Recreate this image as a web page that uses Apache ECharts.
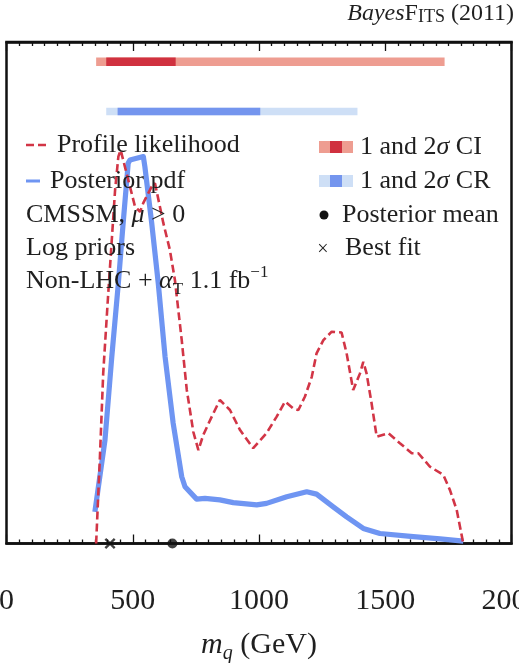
<!DOCTYPE html>
<html>
<head>
<meta charset="utf-8">
<script src="https://cdn.jsdelivr.net/npm/echarts@6/dist/echarts.min.js"></script>
<style>
  html, body { margin: 0; padding: 0; background: #fff; }
  #chart { width: 519px; height: 663px; }
</style>
</head>
<body>
<div id="chart"></div>
<script>
// Squark mass: profile likelihood (dashed) and posterior pdf (solid), CMSSM with log priors.

const xTicks = [0, 500, 1000, 1500, 2000];

// Posterior pdf (normalised to peak ~1)
const posteriorMass = [350, 390, 417, 443, 462, 482, 489, 542, 548, 575, 601, 628, 660, 694, 707,
  753, 786, 845, 898, 991, 1030, 1110, 1189, 1228, 1294, 1347, 1413, 1479, 1611, 1717, 1809];
const posteriorPdf = [0.082, 0.268, 0.484, 0.675, 0.831, 0.986, 0.994, 1.003, 0.977, 0.831, 0.675, 0.484, 0.312, 0.173, 0.147,
  0.115, 0.117, 0.113, 0.106, 0.100, 0.104, 0.121, 0.134, 0.128, 0.095, 0.069, 0.039, 0.026, 0.018, 0.012, 0.006];

// Profile likelihood (normalised to peak ~1)
const profileMass = [355, 370, 383, 403, 417, 430, 443, 452, 489, 509, 529, 542, 575, 588, 621, 647, 667,
  694, 714, 740, 760, 779, 813, 845, 885, 925, 977, 1030, 1070, 1103, 1136, 1156, 1182, 1209, 1228, 1255,
  1288, 1327, 1347, 1373, 1400, 1413, 1426, 1446, 1466, 1512, 1558, 1605, 1631, 1677, 1730, 1756, 1783, 1809];
const profileLike = [0.0, 0.225, 0.441, 0.649, 0.787, 0.916, 1.003, 1.020, 0.925, 0.873, 0.860, 0.883, 0.925, 0.934, 0.831, 0.761, 0.683,
  0.527, 0.398, 0.289, 0.242, 0.281, 0.329, 0.372, 0.346, 0.294, 0.247, 0.286, 0.329, 0.368, 0.350, 0.346, 0.381, 0.432, 0.493, 0.527,
  0.549, 0.547, 0.493, 0.398, 0.441, 0.471, 0.441, 0.363, 0.277, 0.286, 0.260, 0.234, 0.234, 0.199, 0.178, 0.139, 0.087, 0.0];

// Confidence intervals (profile likelihood) and credible regions (posterior), GeV
const ci2sigma = [355, 1735];
const ci1sigma = [395, 670];
const cr2sigma = [395, 1390];
const cr1sigma = [440, 1005];

const posteriorMean = [657];
const bestFit = [410];

const FONT = 'Liberation Serif';
const INK = '#1f1f1f';
const RED = '#d23546';
const RED_LIGHT = '#ee9d91';
const RED_DARK = '#d0313f';
const BLUE = '#6f95f2';
const BLUE_LIGHT = '#cedff6';
const BLUE_DARK = '#7495ee';

const CI_LEVEL = 1.249;
const CR_LEVEL = 1.12;

function band(range, level, color, width) {
  return {
    type: 'line', silent: true, symbol: 'none', animation: false,
    data: [[range[0], level], [range[1], level]],
    lineStyle: { color: color, width: width, cap: 'butt' }
  };
}

function xAxisCfg(position, showLabels) {
  return {
    type: 'value', position: position,
    min: xTicks[0], max: xTicks[xTicks.length - 1], interval: xTicks[1] - xTicks[0],
    axisLine: { show: true, lineStyle: { color: '#111', width: 2.5 } },
    axisTick: { show: true, inside: true, length: 9, lineStyle: { color: '#111', width: 1.3 } },
    minorTick: { show: true, splitNumber: 10, length: 4, lineStyle: { color: '#111', width: 1.3 } },
    splitLine: { show: false }, minorSplitLine: { show: false },
    axisLabel: {
      show: showLabels, margin: 43, fontFamily: FONT, fontSize: 30, color: INK,
      showMinLabel: true, showMaxLabel: true,
      formatter: v => String(v)
    }
  };
}

const bottomAxis = xAxisCfg('bottom', true);
bottomAxis.name = '{m|m}{q|q}{n| (GeV)}';
bottomAxis.nameLocation = 'middle';
bottomAxis.nameGap = 84;
bottomAxis.nameTextStyle = {
  rich: {
    m: { fontFamily: FONT, fontStyle: 'italic', fontSize: 30, color: INK, lineHeight: 36, verticalAlign: 'middle' },
    q: { fontFamily: FONT, fontStyle: 'italic', fontSize: 20, color: INK, lineHeight: 20, verticalAlign: 'bottom' },
    n: { fontFamily: FONT, fontSize: 30, color: INK, lineHeight: 36, verticalAlign: 'middle' }
  }
};

const baseTxt = { fontFamily: FONT, fontSize: 26, fill: INK };
const richLegend = {
  n: { fontFamily: FONT, fontSize: 26, fill: INK, lineHeight: 34, verticalAlign: 'middle' },
  it: { fontFamily: FONT, fontSize: 26, fontStyle: 'italic', fill: INK, lineHeight: 34, verticalAlign: 'middle' },
  sub: { fontFamily: FONT, fontSize: 17, fill: INK, lineHeight: 15, verticalAlign: 'bottom' },
  sup: { fontFamily: FONT, fontSize: 17, fill: INK, lineHeight: 22, verticalAlign: 'top' }
};

function label(x, y, text) {
  return {
    type: 'text', x: x, y: y, z: 100,
    style: Object.assign({ text: text, rich: richLegend, verticalAlign: 'middle', align: 'left' }, baseTxt)
  };
}

const option = {
  animation: false,
  backgroundColor: '#fff',
  grid: {
    left: 6.5, right: 7.5, top: 42, bottom: 119.5,
    containLabel: false, outerBoundsMode: 'none',
    show: true, borderColor: '#111', borderWidth: 2.5
  },
  xAxis: [bottomAxis, xAxisCfg('top', false)],
  yAxis: { type: 'value', min: 0, max: 1.3, show: false },
  series: [
    band(ci2sigma, CI_LEVEL, RED_LIGHT, 8.5),
    band(ci1sigma, CI_LEVEL, RED_DARK, 8.5),
    band(cr2sigma, CR_LEVEL, BLUE_LIGHT, 7.5),
    band(cr1sigma, CR_LEVEL, BLUE_DARK, 7.5),
    {
      name: 'Posterior pdf', type: 'line', symbol: 'none', silent: true,
      data: posteriorMass.map((m, i) => [m, posteriorPdf[i]]),
      lineStyle: { color: BLUE, width: 5.2, join: 'round' }, z: 3
    },
    {
      name: 'Profile likelihood', type: 'line', symbol: 'none', silent: true,
      data: profileMass.map((m, i) => [m, profileLike[i]]),
      lineStyle: { color: RED, width: 2.6, type: [8, 4] }, z: 4
    },
    {
      name: 'Posterior mean', type: 'scatter', clip: false, silent: true,
      data: posteriorMean.map(m => [m, 0]),
      symbol: 'circle', symbolSize: 10, itemStyle: { color: '#111' }, z: 10
    },
    {
      name: 'Best fit', type: 'scatter', clip: false, silent: true,
      data: bestFit.map(m => [m, 0]),
      symbol: 'path://M0,1.5L1.5,0L5,3.5L8.5,0L10,1.5L6.5,5L10,8.5L8.5,10L5,6.5L1.5,10L0,8.5L3.5,5Z',
      symbolSize: 11, itemStyle: { color: '#111' }, z: 10
    }
  ],
  graphic: [
    {
      type: 'text', x: 514, y: 14, z: 100,
      style: {
        text: '{it|Bayes}{sc|F}{scs|ITS}{n| (2011)}', align: 'right', verticalAlign: 'middle',
        rich: {
          it: { fontFamily: FONT, fontStyle: 'italic', fontSize: 24, fill: INK, lineHeight: 24, verticalAlign: 'bottom' },
          sc: { fontFamily: FONT, fontSize: 24, fill: INK, lineHeight: 24, verticalAlign: 'bottom' },
          scs: { fontFamily: FONT, fontSize: 18, fill: INK, lineHeight: 19, verticalAlign: 'bottom' },
          n: { fontFamily: FONT, fontSize: 24, fill: INK, lineHeight: 24, verticalAlign: 'bottom' }
        }
      }
    },
    // left legend block
    { type: 'line', z: 100, shape: { x1: 26, y1: 145, x2: 48, y2: 145 },
      style: { stroke: RED, lineWidth: 2.6, lineDash: [8, 4] } },
    label(57, 145, '{n|Profile likelihood}'),
    { type: 'line', z: 100, shape: { x1: 26, y1: 181, x2: 40, y2: 181 },
      style: { stroke: BLUE, lineWidth: 3 } },
    label(50, 181, '{n|Posterior pdf}'),
    label(26, 215, '{n|CMSSM, }{it|μ}{n| > 0}'),
    label(26, 248, '{n|Log priors}'),
    label(26, 281, '{n|Non-LHC + }{it|α}{sub|T}{n| 1.1 fb}{sup|−1}'),
    // right legend block
    { type: 'rect', z: 100, shape: { x: 319, y: 141, width: 34, height: 12 }, style: { fill: RED_LIGHT } },
    { type: 'rect', z: 100, shape: { x: 330, y: 141, width: 12, height: 12 }, style: { fill: RED_DARK } },
    label(360, 147, '{n|1 and 2}{it|σ}{n| CI}'),
    { type: 'rect', z: 100, shape: { x: 319, y: 175, width: 34, height: 12 }, style: { fill: BLUE_LIGHT } },
    { type: 'rect', z: 100, shape: { x: 330, y: 175, width: 12, height: 12 }, style: { fill: BLUE_DARK } },
    label(360, 181, '{n|1 and 2}{it|σ}{n| CR}'),
    { type: 'circle', z: 100, shape: { cx: 324, cy: 215, r: 4.5 }, style: { fill: '#111' } },
    label(342, 215, '{n|Posterior mean}'),
    { type: 'text', z: 100, x: 323, y: 250,
      style: { text: '×', fontFamily: FONT, fontSize: 20, fill: INK, align: 'center', verticalAlign: 'middle' } },
    label(345, 248, '{n|Best fit}')
  ]
};

const chart = echarts.init(document.getElementById('chart'), null, { renderer: 'canvas' });
chart.setOption(option);
</script>
</body>
</html>
